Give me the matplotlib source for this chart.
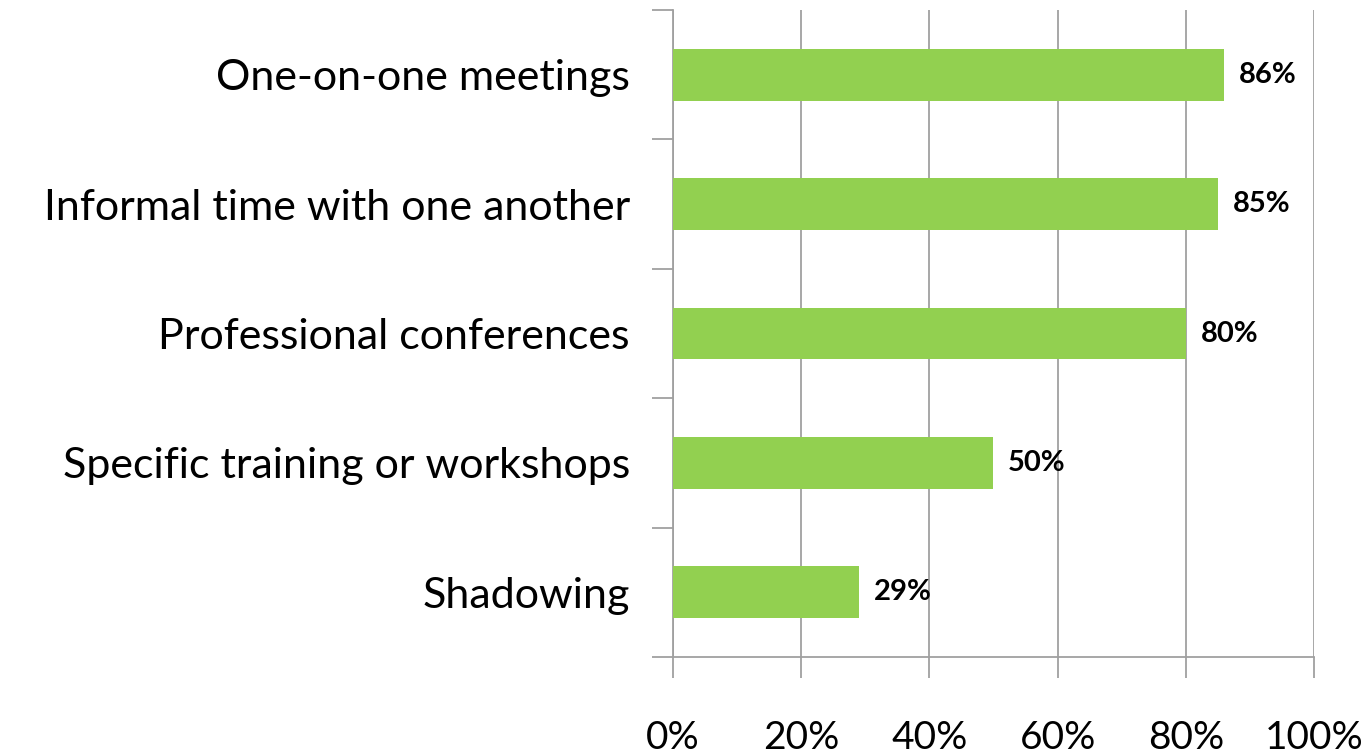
import numpy as np
import matplotlib.pyplot as plt
from matplotlib.ticker import PercentFormatter

categories = [
    'One-on-one meetings',
    'Informal time with one another',
    'Professional conferences',
    'Specific training or workshops',
    'Shadowing',
]
values = [86, 85, 80, 50, 29]
x_ticks = [0, 20, 40, 60, 80, 100]

plt.rcParams['font.family'] = ['Lato', 'DejaVu Sans']

fig = plt.figure(figsize=(13.72, 7.54), dpi=100)
ax = fig.add_axes([0.4905, 0.1286, 0.4672, 0.8581])

grey = '#a0a0a0'
y = np.arange(len(categories))
bars = ax.barh(y, values, height=0.4, color='#92d050', zorder=3)

for rect, v in zip(bars, values):
    ax.text(rect.get_width() + 2.3, rect.get_y() + rect.get_height() / 2,
            f'{v}%', va='center', ha='left', fontsize=21, fontweight='bold',
            zorder=4)

ax.set_xlim(0, 100)
ax.set_ylim(len(categories) - 0.5, -0.5)
ax.set_xticks(x_ticks)
ax.xaxis.set_major_formatter(PercentFormatter(decimals=0))
ax.set_yticks(np.arange(-0.5, len(categories), 1.0))
ax.set_yticklabels([])
ax.set_yticks(y, minor=True)
ax.set_yticklabels(categories, minor=True)

ax.grid(axis='x', color=grey, linewidth=1.3, zorder=0)
for side in ('top', 'right'):
    ax.spines[side].set_visible(False)
for side in ('left', 'bottom'):
    ax.spines[side].set_color(grey)
    ax.spines[side].set_linewidth(1.3)

ax.tick_params(axis='x', which='major', direction='out', length=15, width=1.3,
               color=grey, pad=30, labelsize=28)
ax.tick_params(axis='y', which='major', direction='out', length=15, width=1.3,
               color=grey)
ax.tick_params(axis='y', which='minor', length=0, pad=31, labelsize=31)

fig.savefig('out.png', dpi=100)
